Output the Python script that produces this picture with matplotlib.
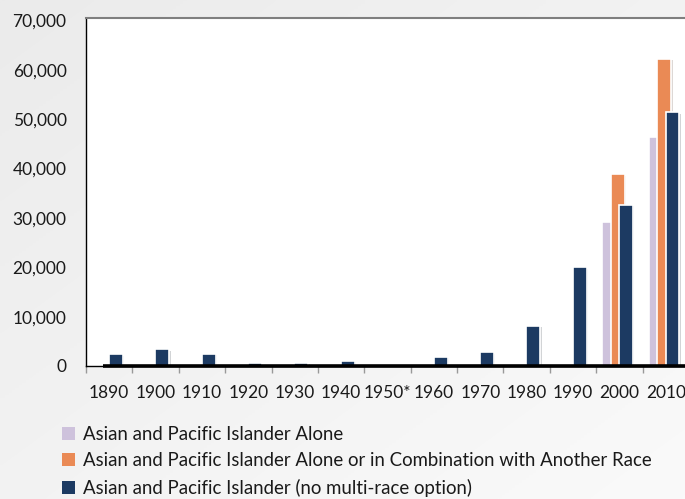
import numpy as np
import matplotlib
matplotlib.use("Agg")
import matplotlib.pyplot as plt
from matplotlib.patches import Patch
import matplotlib.patheffects as pe

# Data
years = ['1890', '1900', '1910', '1920', '1930', '1940', '1950*',
         '1960', '1970', '1980', '1990', '2000', '2010']
api_alone = [np.nan] * 11 + [29100, 46300]
api_combo = [np.nan] * 11 + [38800, 62200]
api_nomulti = [2400, 3400, 2500, 600, 700, 1000, np.nan,
               1900, 2800, 8200, 20000, 32700, 51400]

c_alone = '#cec2dc'
c_combo = '#ea8a55'
c_nomulti = '#1c3a62'

plt.rcParams['font.family'] = ['Lato', 'DejaVu Sans']

fig = plt.figure(figsize=(6.85, 4.99), dpi=100)

# light gray gradient background
bg = fig.add_axes([0, 0, 1, 1], zorder=-10)
gx, gy = np.meshgrid(np.linspace(0, 1, 200), np.linspace(0, 1, 200))
grad = 0.5 * gx + 0.5 * gy
bg.imshow(grad, cmap=matplotlib.colors.LinearSegmentedColormap.from_list(
    'g', ['#ebebeb', '#fafafa']), aspect='auto', extent=[0, 1, 0, 1], origin='upper')
bg.axis('off')

ax = fig.add_axes([86 / 685, 1 - 366 / 499, 603 / 685, 348 / 499])
ax.set_facecolor('white')

x = np.arange(len(years))
w = 0.3
shadow = [pe.SimplePatchShadow(offset=(1.0, -1.0), alpha=0.18), pe.Normal()]
for vals, off, col in [(api_alone, -0.22, c_alone),
                       (api_combo, -0.035, c_combo),
                       (api_nomulti, 0.145, c_nomulti)]:
    bars = ax.bar(x + off, vals, width=w, color=col, edgecolor='white',
                  linewidth=1.2, zorder=3)
    for b in bars:
        b.set_path_effects(shadow)

ax.plot([-0.13, 12.5], [0, 0], color='black', lw=2.6, zorder=4,
        clip_on=False, solid_capstyle='butt')

ax.set_xlim(-0.5, 12.5)
ax.set_ylim(0, 70500)
ax.set_yticks(np.arange(0, 70001, 10000))
ax.set_yticklabels([f'{v:,}' for v in range(0, 70001, 10000)])
ax.set_xticks(x)
ax.set_xticklabels(years)
ax.set_xticks(np.arange(-0.5, 13, 1), minor=True)
ax.tick_params(axis='x', which='major', length=0, pad=14, labelsize=12.5,
               colors='#1a1a1a')
ax.tick_params(axis='x', which='minor', length=5, width=1, color='#999999',
               direction='out')
ax.tick_params(axis='y', length=0, pad=14, labelsize=12.5, colors='#1a1a1a')

for s in ['left', 'bottom']:
    ax.spines[s].set_color('black')
    ax.spines[s].set_linewidth(1)
ax.spines['top'].set_color('#7f7f7f')
ax.spines['top'].set_linewidth(1.5)
ax.spines['right'].set_visible(False)

handles = [Patch(facecolor=c_alone, edgecolor='none'),
           Patch(facecolor=c_combo, edgecolor='none'),
           Patch(facecolor=c_nomulti, edgecolor='none')]
labels = ['Asian and Pacific Islander Alone',
          'Asian and Pacific Islander Alone or in Combination with Another Race',
          'Asian and Pacific Islander (no multi-race option)']
fig.legend(handles, labels, loc='upper left', bbox_to_anchor=(62 / 685, 1 - 426 / 499),
           frameon=False, fontsize=13.4, handlelength=0.7, handleheight=0.7,
           handletextpad=0.45, labelspacing=0.5, borderpad=0, borderaxespad=0,
           labelcolor='#1a1a1a')

fig.savefig('out.png', dpi=100, facecolor=fig.get_facecolor())
